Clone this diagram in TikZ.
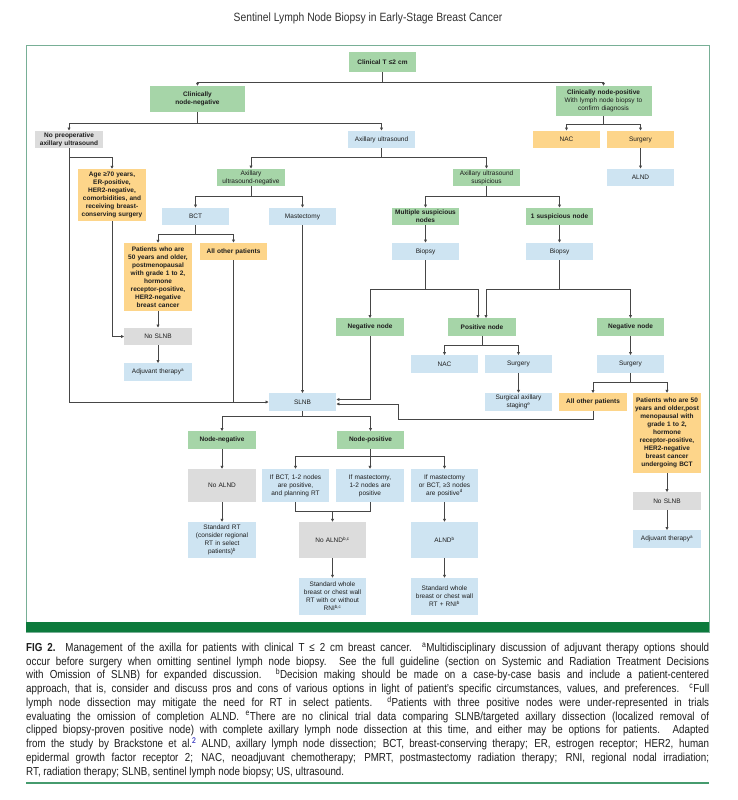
\documentclass[tikz,border=0pt]{standalone}
\usepackage{fontspec}
\setmainfont{Liberation Sans}
\newfontfamily\condfont[FakeStretch=0.845]{Liberation Sans}
\newfontfamily\ttlfont[FakeStretch=0.86]{Liberation Sans}
\usetikzlibrary{arrows.meta}
\definecolor{gfill}{RGB}{166,213,168}
\definecolor{bfill}{RGB}{206,228,242}
\definecolor{yfill}{RGB}{253,213,138}
\definecolor{kfill}{RGB}{220,220,220}
\definecolor{lc}{RGB}{70,70,70}
\definecolor{txt}{RGB}{30,30,30}
\definecolor{frm}{RGB}{120,175,150}
\definecolor{barc}{RGB}{12,122,60}
\definecolor{rulec}{RGB}{70,155,110}
\definecolor{ttl}{RGB}{50,50,50}
\newcommand\bxf{\fontsize{6.5}{8}\selectfont}
\tikzset{
  bx/.style={draw=none, inner sep=0pt, minimum width=67.5pt, text width=66pt, align=center, font=\bxf, text=txt, minimum height=17.5pt},
  gb/.style={bx, fill=gfill},
  bb/.style={bx, fill=bfill},
  yb/.style={bx, fill=yfill},
  kb/.style={bx, fill=kfill},
  bold/.style={font=\bxf\bfseries},
  ln/.style={draw=lc, line width=0.75pt},
  arr/.style={-{Triangle[length=3pt,width=2.8pt]}},
}
\begin{document}
\begin{tikzpicture}[x=1pt,y=-1pt]
\useasboundingbox (0,0) rectangle (737,800);
\fill[white] (0,0) rectangle (737,800);
% title
\node[font=\ttlfont\fontsize{12}{14}\selectfont, text=ttl] (title) at (368,18) {Sentinel Lymph Node Biopsy in Early-Stage Breast Cancer};
% frame
\draw[frm, line width=0.8pt] (26,45) rectangle (709,632);
\fill[barc] (26,622) rectangle (709,632);

% nodes
\node[gb,bold,minimum height=20pt] (cT) at (382.5,62) {Clinical T ≤2 cm};
\node[gb,bold,minimum width=95pt,text width=93pt,minimum height=26pt] (cneg) at (197.5,99) {Clinically\\node-negative};
\node[gb,minimum width=96pt,text width=94pt,minimum height=30pt] (cpos) at (603.5,101) {\textbf{Clinically node-positive}\\With lymph node biopsy to\\confirm diagnosis};
\node[kb,bold] (noUS) at (69,139.5) {No preoperative\\axillary ultrasound};
\node[bb] (axUS) at (381.5,139.5) {Axillary ultrasound};
\node[yb] (nac1) at (566.5,139.5) {NAC};
\node[yb] (surg1) at (640.5,139.5) {Surgery};
\node[bb] (alnd1) at (640.5,177.5) {ALND};
\node[yb,bold,minimum height=52pt] (age) at (112,195) {Age ≥70 years,\\ER-positive,\\HER2-negative,\\comorbidities, and\\receiving breast-\\conserving surgery};
\node[gb] (axneg) at (251,177.5) {Axillary\\ultrasound-negative};
\node[gb] (axsus) at (486.5,177.5) {Axillary ultrasound\\suspicious};
\node[bb] (bct) at (195.5,216.5) {BCT};
\node[bb] (mast) at (302.5,216.5) {Mastectomy};
\node[gb,bold] (multi) at (425.5,216.5) {Multiple suspicious\\nodes};
\node[gb,bold] (one) at (559.5,216.5) {1 suspicious node};
\node[yb,bold,minimum height=68pt] (pt50a) at (158,277) {Patients who are\\50 years and older,\\postmenopausal\\with grade 1 to 2,\\hormone\\receptor-positive,\\HER2-negative\\breast cancer};
\node[yb,bold] (allo1) at (233.5,251.5) {All other patients};
\node[bb] (bio1) at (425.5,251.5) {Biopsy};
\node[bb] (bio2) at (559.5,251.5) {Biopsy};
\node[gb,bold] (negL) at (370,327) {Negative node};
\node[gb,bold] (pos) at (482,327) {Positive node};
\node[gb,bold] (negR) at (630.5,327) {Negative node};
\node[kb] (noslnb1) at (158,336.5) {No SLNB};
\node[bb] (adj1) at (158,372) {Adjuvant therapy\textsuperscript{a}};
\node[bb] (nac2) at (444.5,364) {NAC};
\node[bb] (surg2) at (518.5,364) {Surgery};
\node[bb] (surg3) at (630.5,364) {Surgery};
\node[bb,minimum height=18pt] (sas) at (518.5,402) {Surgical axillary\\staging\textsuperscript{e}};
\node[bb] (slnb) at (302.5,402) {SLNB};
\node[yb,bold] (allo2) at (593,402) {All other patients};
\node[yb,bold,minimum height=80pt] (pt50b) at (667,433) {Patients who are 50\\years and older,post\\menopausal with\\grade 1 to 2,\\hormone\\receptor-positive,\\HER2-negative\\breast cancer\\undergoing BCT};
\node[gb,bold] (nneg) at (222,440) {Node-negative};
\node[gb,bold] (npos) at (370.5,440) {Node-positive};
\node[kb,minimum height=33pt] (noalnd1) at (222,485.5) {No ALND};
\node[bb,minimum height=33pt] (ifbct) at (295.5,485.5) {If BCT, 1-2 nodes\\are positive,\\and planning RT};
\node[bb,minimum height=33pt] (ifm) at (370,485.5) {If mastectomy,\\1-2 nodes are\\positive};
\node[bb,minimum height=33pt] (ifm3) at (444.5,485.5) {If mastectomy\\or BCT, ≥3 nodes\\are positive\textsuperscript{d}};
\node[bb,minimum height=36pt] (stdrt) at (222,540) {Standard RT\\(consider regional\\RT in select\\patients)\textsuperscript{b}};
\node[kb,minimum height=36pt] (noalnd2) at (332.5,540) {No ALND\textsuperscript{b,c}};
\node[bb,minimum height=36pt] (alnd2) at (444.5,540) {ALND\textsuperscript{b}};
\node[bb,minimum height=37pt] (stdw1) at (332.5,596.5) {Standard whole\\breast or chest wall\\RT with or without\\RNI\textsuperscript{b,c}};
\node[bb,minimum height=37pt] (stdw2) at (444.5,596.5) {Standard whole\\breast or chest wall\\RT + RNI\textsuperscript{b}};
\node[kb] (noslnb2) at (667,501) {No SLNB};
\node[bb] (adj2) at (667,539) {Adjuvant therapy\textsuperscript{a}};

% connectors
\coordinate (j1) at (cT.south |- 0,82);
\draw[ln] (cT.south) -- (j1);
\draw[ln,arr] (j1) -| (cneg.north);
\draw[ln,arr] (j1) -| (cpos.north);

\coordinate (j2) at (cneg.south |- 0,123);
\draw[ln] (cneg.south) -- (j2);
\draw[ln,arr] (j2) -| (noUS.north);
\draw[ln,arr] (j2) -| (axUS.north);

\coordinate (j3) at (cpos.south |- 0,124);
\draw[ln] (cpos.south) -- (j3);
\draw[ln,arr] (j3) -| (nac1.north);
\draw[ln,arr] (j3) -| (surg1.north);
\draw[ln,arr] (surg1.south) -- (alnd1.north);

\draw[ln,arr] (noUS.south) |- (slnb.west);
\coordinate (j4) at (noUS.south |- 0,157);
\draw[ln,arr] (j4) -| (age.north);
\draw[ln,arr] (age.south) |- (noslnb1.west);

\coordinate (j5) at (axUS.south |- 0,157);
\draw[ln] (axUS.south) -- (j5);
\draw[ln,arr] (j5) -| (axneg.north);
\draw[ln,arr] (j5) -| (axsus.north);

\coordinate (j6) at (axneg.south |- 0,196);
\draw[ln] (axneg.south) -- (j6);
\draw[ln,arr] (j6) -| (bct.north);
\draw[ln,arr] (j6) -| (mast.north);

\coordinate (j7) at (bct.south |- 0,234);
\draw[ln] (bct.south) -- (j7);
\draw[ln,arr] (j7) -| (pt50a.north);
\draw[ln,arr] (j7) -| (allo1.north);
\draw[ln,arr] (pt50a.south) -- (noslnb1.north);
\draw[ln,arr] (noslnb1.south) -- (adj1.north);
\draw[ln] (allo1.south) -- (allo1.south |- slnb.west);
\draw[ln,arr] (mast.south) -- (slnb.north);

\coordinate (j8) at (axsus.south |- 0,196);
\draw[ln] (axsus.south) -- (j8);
\draw[ln,arr] (j8) -| (multi.north);
\draw[ln,arr] (j8) -| (one.north);
\draw[ln,arr] (multi.south) -- (bio1.north);
\draw[ln,arr] (one.south) -- (bio2.north);

\coordinate (j9) at (bio1.south |- 0,289);
\draw[ln] (bio1.south) -- (j9);
\draw[ln,arr] (j9) -| (negL.north);
\draw[ln,arr] (j9) -| ([xshift=-4pt]pos.north);
\coordinate (j10) at (bio2.south |- 0,289);
\draw[ln] (bio2.south) -- (j10);
\draw[ln,arr] (j10) -| ([xshift=4pt]pos.north);
\draw[ln,arr] (j10) -| (negR.north);

\draw[ln,arr] (negL.south) |- ([yshift=2.5pt]slnb.east);
\coordinate (k1) at (398,419);
\draw[ln,arr] (allo2.south) |- (k1) |- ([yshift=-2pt]slnb.east);

\coordinate (j11) at (pos.south |- 0,345);
\draw[ln] (pos.south) -- (j11);
\draw[ln,arr] (j11) -| (nac2.north);
\draw[ln,arr] (j11) -| (surg2.north);
\draw[ln,arr] (surg2.south) -- (sas.north);
\draw[ln,arr] (negR.south) -- (surg3.north);

\coordinate (j12) at (surg3.south |- 0,382);
\draw[ln] (surg3.south) -- (j12);
\draw[ln,arr] (j12) -| (allo2.north);
\draw[ln,arr] (j12) -| (pt50b.north);
\draw[ln,arr] (pt50b.south) -- (noslnb2.north);
\draw[ln,arr] (noslnb2.south) -- (adj2.north);

\coordinate (j13) at (slnb.south |- 0,416);
\draw[ln] (slnb.south) -- (j13);
\draw[ln,arr] (j13) -| (nneg.north);
\draw[ln,arr] (j13) -| (npos.north);
\draw[ln,arr] (nneg.south) -- (noalnd1.north);
\draw[ln,arr] (noalnd1.south) -- (stdrt.north);

\coordinate (j14) at (npos.south |- 0,456);
\draw[ln] (npos.south) -- (j14);
\draw[ln,arr] (j14) -| (ifbct.north);
\draw[ln,arr] (j14) -| (ifm.north);
\draw[ln,arr] (j14) -| (ifm3.north);
\coordinate (j15) at (noalnd2.north |- 0,511);
\draw[ln] (ifbct.south) |- (j15);
\draw[ln] (ifm.south) |- (j15);
\draw[ln,arr] (j15) -- (noalnd2.north);
\draw[ln,arr] (noalnd2.south) -- (stdw1.north);
\draw[ln,arr] (ifm3.south) -- (alnd2.north);
\draw[ln,arr] (alnd2.south) -- (stdw2.north);

% caption
\node[anchor=north west, inner sep=0pt, text width=683pt, align=justify, text=txt,
      font=\condfont\fontsize{11.6}{13.75}\selectfont] (cap) at (26,642.5) {%
\textbf{FIG 2.}\ \ Management of the axilla for patients with clinical T ≤ 2 cm breast cancer. \textsuperscript{a}Multidisciplinary discussion of adjuvant therapy options should\linebreak
occur before surgery when omitting sentinel lymph node biopsy. See the full guideline (section on Systemic and Radiation Treatment Decisions\linebreak
with Omission of SLNB) for expanded discussion. \textsuperscript{b}Decision making should be made on a case-by-case basis and include a patient-centered\linebreak
approach, that is, consider and discuss pros and cons of various options in light of patient’s specific circumstances, values, and preferences. \textsuperscript{c}Full\linebreak
lymph node dissection may mitigate the need for RT in select patients. \textsuperscript{d}Patients with three positive nodes were under-represented in trials\linebreak
evaluating the omission of completion ALND. \textsuperscript{e}There are no clinical trial data comparing SLNB/targeted axillary dissection (localized removal of\linebreak
clipped biopsy-proven positive node) with complete axillary lymph node dissection at this time, and either may be options for patients. Adapted\linebreak
from the study by Brackstone et al.\textsuperscript{\textcolor{blue!70!black}{2}} ALND, axillary lymph node dissection; BCT, breast-conserving therapy; ER, estrogen receptor; HER2, human\linebreak
epidermal growth factor receptor 2; NAC, neoadjuvant chemotherapy; PMRT, postmastectomy radiation therapy; RNI, regional nodal irradiation;\linebreak
RT, radiation therapy; SLNB, sentinel lymph node biopsy; US, ultrasound.};
\draw[rulec, line width=1.5pt] (26,783) -- (709,783);
\end{tikzpicture}
\end{document}
